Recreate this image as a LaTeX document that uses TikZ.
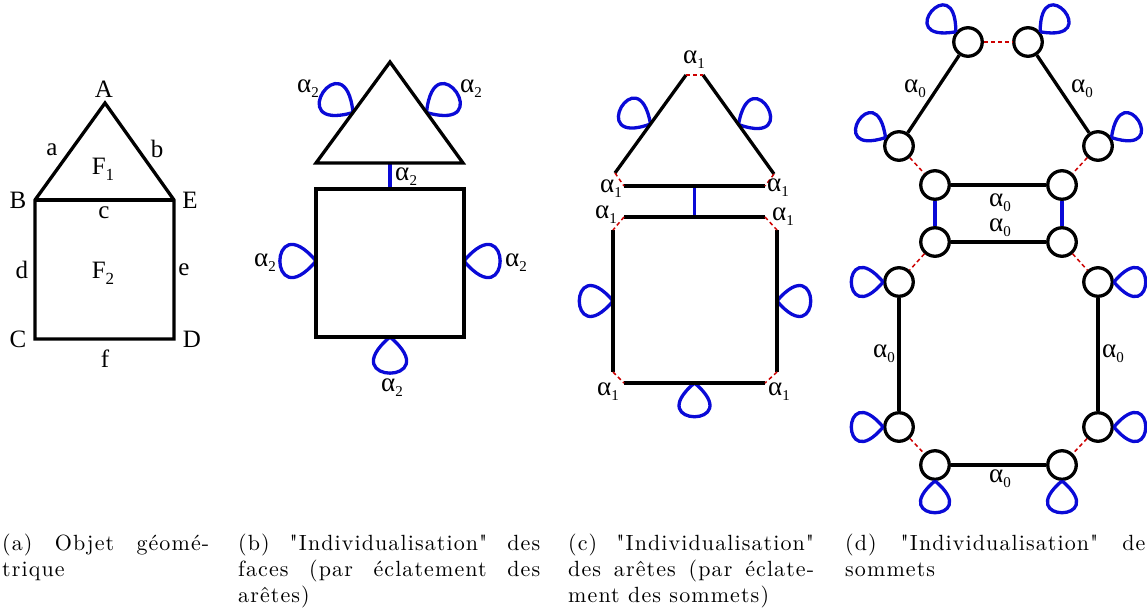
\documentclass[tikz,border=0pt]{standalone}
\usepackage{fontspec}
\usetikzlibrary{calc}
\newfontfamily\lbf{Liberation Serif}
\newfontfamily\capfont{lmroman10-regular.otf}[LetterSpace=5]
\definecolor{blueC}{RGB}{10,10,215}
\definecolor{redC}{RGB}{205,0,0}
\newcommand\al[1]{α\kern0.2pt\raisebox{-5pt}{\fontsize{15}{15}\selectfont #1}}
\newcommand\lpp[3][70]{\draw[bl] #2 .. controls +({-(#3)+50}:#1) and +({-(#3)-50}:#1) .. #2;}
\begin{document}
\begin{tikzpicture}[x=1pt,y=-1pt,line join=miter,
  blk/.style={line width=3.3pt,black},
  bl/.style={line width=3.3pt,blueC},
  rd/.style={line width=1.5pt,redC,dash pattern=on 4pt off 3pt},
  lab/.style={font={\lbf\fontsize{25}{25}\selectfont},inner sep=0pt},
  alab/.style={font={\lbf\fontsize{27}{27}\selectfont},inner sep=0pt},
  vtx/.style={circle,draw,line width=3.3pt,minimum size=28.5pt,inner sep=0pt,fill=white},
  capt/.style={anchor=north west,inner sep=0pt,align=justify,font={\capfont\fontsize{22}{26}\selectfont}}]
\useasboundingbox (0,0) rectangle (1147,613);

% ---------- (a) ----------
\coordinate (A) at (105,103);
\coordinate (B) at (35,200);
\coordinate (E) at (174,200);
\coordinate (C) at (35,339);
\coordinate (D) at (174,339);
\draw[blk] (A) -- (E) -- (D) -- (C) -- (B) -- cycle;
\draw[blk] (B) -- (E);
\node[lab] (lA) at (104,89) {A};
\node[lab] (lB) at (18,200) {B};
\node[lab] (lE) at (190,200) {E};
\node[lab] (lC) at (18,339) {C};
\node[lab] (lD) at (192,339) {D};
\node[lab] (la) at (52,150) {a};
\node[lab] (lb) at (157,149) {b};
\node[lab] (lc) at (104,213) {c};
\node[lab] (ld) at (22,270) {d};
\node[lab] (le) at (184,270) {e};
\node[lab] (lf) at (105,359) {f};
\node[lab,anchor=base] (lF1) at (103,174) {F\raisebox{-6pt}{\fontsize{17}{17}\selectfont 1}};
\node[lab,anchor=base] (lF2) at (103,278) {F\raisebox{-6pt}{\fontsize{17}{17}\selectfont 2}};

% ---------- (b) ----------
\coordinate (tA) at (390,62);
\coordinate (tB) at (316,163);
\coordinate (tC) at (463,163);
\coordinate (s1) at (316,189);
\coordinate (s2) at (464,189);
\coordinate (s3) at (464,337);
\coordinate (s4) at (316,337);
\coordinate (bm1) at (390,163);
\coordinate (bm2) at (390,189);
\draw[bl] (bm1) -- (bm2);
\coordinate (bl1) at ($(tA)!0.5!(tB)$);
\coordinate (bl2) at ($(tA)!0.5!(tC)$);
\coordinate (bl3) at (316,261);
\coordinate (bl4) at (464,261);
\coordinate (bl5) at (390,337);
\lpp[75]{(bl1)}{146}
\lpp[75]{(bl2)}{34}
\lpp[75]{(bl3)}{180}
\lpp[75]{(bl4)}{0}
\lpp[75]{(bl5)}{270}
\draw[blk] (tA) -- (tC) -- (tB) -- cycle;
\draw[blk] (s1) -- (s2) -- (s3) -- (s4) -- cycle;
\node[alab] (b1) at (308,89) {\al{2}};
\node[alab] (b2) at (471,89) {\al{2}};
\node[alab] (b3) at (265,263) {\al{2}};
\node[alab] (b4) at (516,263) {\al{2}};
\node[alab] (b5) at (392,388) {\al{2}};
\node[alab,anchor=west] (b6) at (395,177) {\al{2}};

% ---------- (c) ----------
\coordinate (ctl) at (686,75);
\coordinate (cbl) at (615,173);
\coordinate (ctr) at (703,75);
\coordinate (cbr) at (774,174);
\coordinate (cb1) at (624,186);
\coordinate (cb2) at (765,186);
\coordinate (cs1) at (624,217);
\coordinate (cs2) at (765,217);
\coordinate (cl1) at (613,230);
\coordinate (cl2) at (613,372);
\coordinate (cr1) at (777,230);
\coordinate (cr2) at (777,372);
\coordinate (cbb1) at (624,383);
\coordinate (cbb2) at (765,383);
\draw[bl] ($(cb1)!0.5!(cb2)$) -- ($(cs1)!0.5!(cs2)$);
\lpp{($(ctl)!0.5!(cbl)$)}{150}
\lpp{($(ctr)!0.5!(cbr)$)}{30}
\lpp{($(cl1)!0.5!(cl2)$)}{180}
\lpp{($(cr1)!0.5!(cr2)$)}{0}
\lpp{($(cbb1)!0.5!(cbb2)$)}{270}
\draw[blk] (ctl) -- (cbl);
\draw[blk] (ctr) -- (cbr);
\draw[blk] (cb1) -- (cb2);
\draw[blk] (cs1) -- (cs2);
\draw[blk] (cl1) -- (cl2);
\draw[blk] (cr1) -- (cr2);
\draw[blk] (cbb1) -- (cbb2);
\draw[rd] (ctl) -- (ctr);
\draw[rd] (cbl) -- (cb1);
\draw[rd] (cbr) -- (cb2);
\draw[rd] (cs1) -- (cl1);
\draw[rd] (cs2) -- (cr1);
\draw[rd] (cl2) -- (cbb1);
\draw[rd] (cr2) -- (cbb2);
\node[alab] (c1) at (694,60) {\al{1}};
\node[alab] (c2) at (611,189) {\al{1}};
\node[alab] (c3) at (778,188) {\al{1}};
\node[alab] (c4) at (606,215) {\al{1}};
\node[alab] (c5) at (783,217) {\al{1}};
\node[alab] (c6) at (608,392) {\al{1}};
\node[alab] (c7) at (779,392) {\al{1}};

% ---------- (d) ----------
\node[vtx] (T1) at (968,42) {};
\node[vtx] (T2) at (1028,42) {};
\node[vtx] (L1) at (899,146) {};
\node[vtx] (R1) at (1098,146) {};
\node[vtx] (M1) at (935,185) {};
\node[vtx] (M2) at (1062,185) {};
\node[vtx] (M3) at (935,242) {};
\node[vtx] (M4) at (1062,242) {};
\node[vtx] (L2) at (899,282) {};
\node[vtx] (R2) at (1098,282) {};
\node[vtx] (L3) at (899,427) {};
\node[vtx] (R3) at (1098,427) {};
\node[vtx] (B1) at (935,465) {};
\node[vtx] (B2) at (1062,465) {};
\draw[blk] (T1) -- (L1);
\draw[blk] (T2) -- (R1);
\draw[blk] (M1) -- (M2);
\draw[blk] (M3) -- (M4);
\draw[blk] (L2) -- (L3);
\draw[blk] (R2) -- (R3);
\draw[blk] (B1) -- (B2);
\draw[rd] (T1) -- (T2);
\draw[rd] (L1) -- (M1);
\draw[rd] (R1) -- (M2);
\draw[rd] (M3) -- (L2);
\draw[rd] (M4) -- (R2);
\draw[rd] (L3) -- (B1);
\draw[rd] (R3) -- (B2);
\draw[bl] (M1) -- (M3);
\draw[bl] (M2) -- (M4);
\lpp[66]{(T1.140)}{140}
\lpp[66]{(T2.40)}{40}
\lpp[66]{(L1.148)}{148}
\lpp[66]{(R1.32)}{32}
\lpp[66]{(L2.180)}{180}
\lpp[66]{(R2.0)}{0}
\lpp[66]{(L3.180)}{180}
\lpp[66]{(R3.0)}{0}
\lpp[66]{(B1.270)}{270}
\lpp[66]{(B2.270)}{270}
\node[alab] (d1) at (915,89) {\al{0}};
\node[alab] (d2) at (1082,89) {\al{0}};
\node[alab] (d3) at (1000,203) {\al{0}};
\node[alab] (d4) at (1000,228) {\al{0}};
\node[alab] (d5) at (884,354) {\al{0}};
\node[alab] (d6) at (1113,354) {\al{0}};
\node[alab] (d7) at (1000,479) {\al{0}};

% ---------- captions ----------
\node[capt,text width=207pt] (capa) at (2,534) {(a) Objet géomé-\linebreak trique};
\node[capt,text width=302pt] (capb) at (238,534) {(b) "Individualisation" des\linebreak faces (par éclatement des\linebreak arêtes)};
\node[capt,text width=246pt] (capc) at (568,534) {(c) "Individualisation"\linebreak des arêtes (par éclate-\linebreak ment des sommets)};
\node[capt,text width=310pt] (capd) at (845,534) {(d) "Individualisation" des\linebreak sommets};
\end{tikzpicture}
\end{document}
